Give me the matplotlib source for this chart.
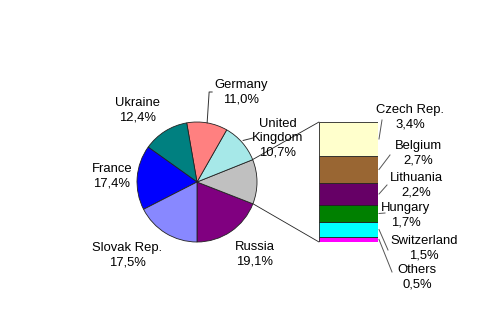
import numpy as np
import matplotlib
matplotlib.use("Agg")
import matplotlib.pyplot as plt
from matplotlib.patches import ConnectionPatch

plt.rcParams['font.family'] = ['Liberation Sans', 'DejaVu Sans']

# bar part (bottom to top) = breakdown of the "Others" pie slice
bar_labels = ['Others', 'Switzerland', 'Hungary', 'Lithuania', 'Belgium', 'Czech Rep.']
bar_values = [0.5, 1.5, 1.7, 2.2, 2.7, 3.4]
bar_colors = ['#FF00FF', '#00FFFF', '#008000', '#660066', '#996633', '#FFFFCC']

# pie part (counterclockwise from straight down)
pie_labels = ['Russia', 'Others', 'United\nKingdom', 'Germany', 'Ukraine', 'France', 'Slovak Rep.']
pie_values = [19.1, sum(bar_values), 10.7, 11.0, 12.4, 17.4, 17.5]
pie_colors = ['#800080', '#C0C0C0', '#A6E8E8', '#FF8080', '#008080', '#0000FF', '#8888FF']

W, H = 503, 312
fig = plt.figure(figsize=(W / 100, H / 100), dpi=100)

# pie geometry in pixels (top-down y)
cx, cy, r = 197, 182, 60
START = 270

ax_pie = fig.add_axes([(cx - r) / W, (H - cy - r) / H, 2 * r / W, 2 * r / H])
ax_pie.pie(pie_values, colors=pie_colors, startangle=START, counterclock=True,
           radius=1, wedgeprops=dict(edgecolor='#222222', linewidth=0.6))
ax_pie.set_xlim(-1, 1)
ax_pie.set_ylim(-1, 1)
ax_pie.set_aspect('equal')
ax_pie.axis('off')

# bar geometry in pixels
bx0, bx1, by_top, by_bot = 319, 378, 122, 242
ax_bar = fig.add_axes([bx0 / W, (H - by_bot) / H, (bx1 - bx0) / W, (by_bot - by_top) / H])
bottoms = np.concatenate([[0], np.cumsum(bar_values)[:-1]])
ax_bar.bar(0, bar_values, bottom=bottoms, width=1, color=bar_colors,
           edgecolor='#222222', linewidth=0.6)
ax_bar.set_xlim(-0.5, 0.5)
ax_bar.set_ylim(0, sum(bar_values))
ax_bar.axis('off')

# connector lines between "Others" slice and bar
a0 = np.deg2rad(START + pie_values[0] * 3.6)
a1 = np.deg2rad(START + (pie_values[0] + pie_values[1]) * 3.6)
for ang, yb in [(a1, sum(bar_values)), (a0, 0)]:
    con = ConnectionPatch(xyA=(np.cos(ang), np.sin(ang)), coordsA=ax_pie.transData,
                          xyB=(-0.5, yb), coordsB=ax_bar.transData,
                          color='#222222', linewidth=0.6)
    fig.add_artist(con)

# overlay for labels in pixel coordinates
ov = fig.add_axes([0, 0, 1, 1], zorder=5)
ov.set_xlim(0, W)
ov.set_ylim(H, 0)
ov.axis('off')
ov.patch.set_alpha(0)

fs = 9.4
ls = 1.25

def pct(v):
    return f"{v:.1f}".replace('.', ',') + '%'

pie_text_pos = [(255, 254), None, (278, 138), (241, 92), (138, 110), (112, 176), (127, 255)]
cum = 0
for lab, v, pos in zip(pie_labels, pie_values, pie_text_pos):
    mid = np.deg2rad(START + (cum + v / 2) * 3.6)
    cum += v
    if pos is None:
        continue
    ov.text(pos[0], pos[1], lab + '\n' + pct(v), ha='center', va='center',
            fontsize=fs, linespacing=ls)
    ex, ey = cx + r * np.cos(mid), cy - r * np.sin(mid)
    if lab == 'Germany':
        ov.plot([ex, ex + 2, ex + 5], [ey, 92, 92], color='#333333', lw=0.7)
    if lab.startswith('United'):
        ov.plot([ex + 1, 253], [ey - 2, 138], color='#333333', lw=0.7)

bar_text_pos = [(417, 277), (424, 248), (406, 215), (416, 185), (418, 153), (410, 117)]
bar_leader_end = [(392, 272), (388, 250), (385, 213), (387, 185), (390, 155), (382, 120)]
scale = (by_bot - by_top) / sum(bar_values)
for lab, v, b, pos, le in zip(bar_labels, bar_values, bottoms, bar_text_pos, bar_leader_end):
    ov.text(pos[0], pos[1], lab + '\n' + pct(v), ha='center', va='center',
            fontsize=fs, linespacing=ls)
    ym = by_bot - (b + v / 2) * scale
    ov.plot([bx1 + 1, le[0]], [ym, le[1]], color='#555555', lw=0.7)

fig.savefig('out.png', dpi=100)
